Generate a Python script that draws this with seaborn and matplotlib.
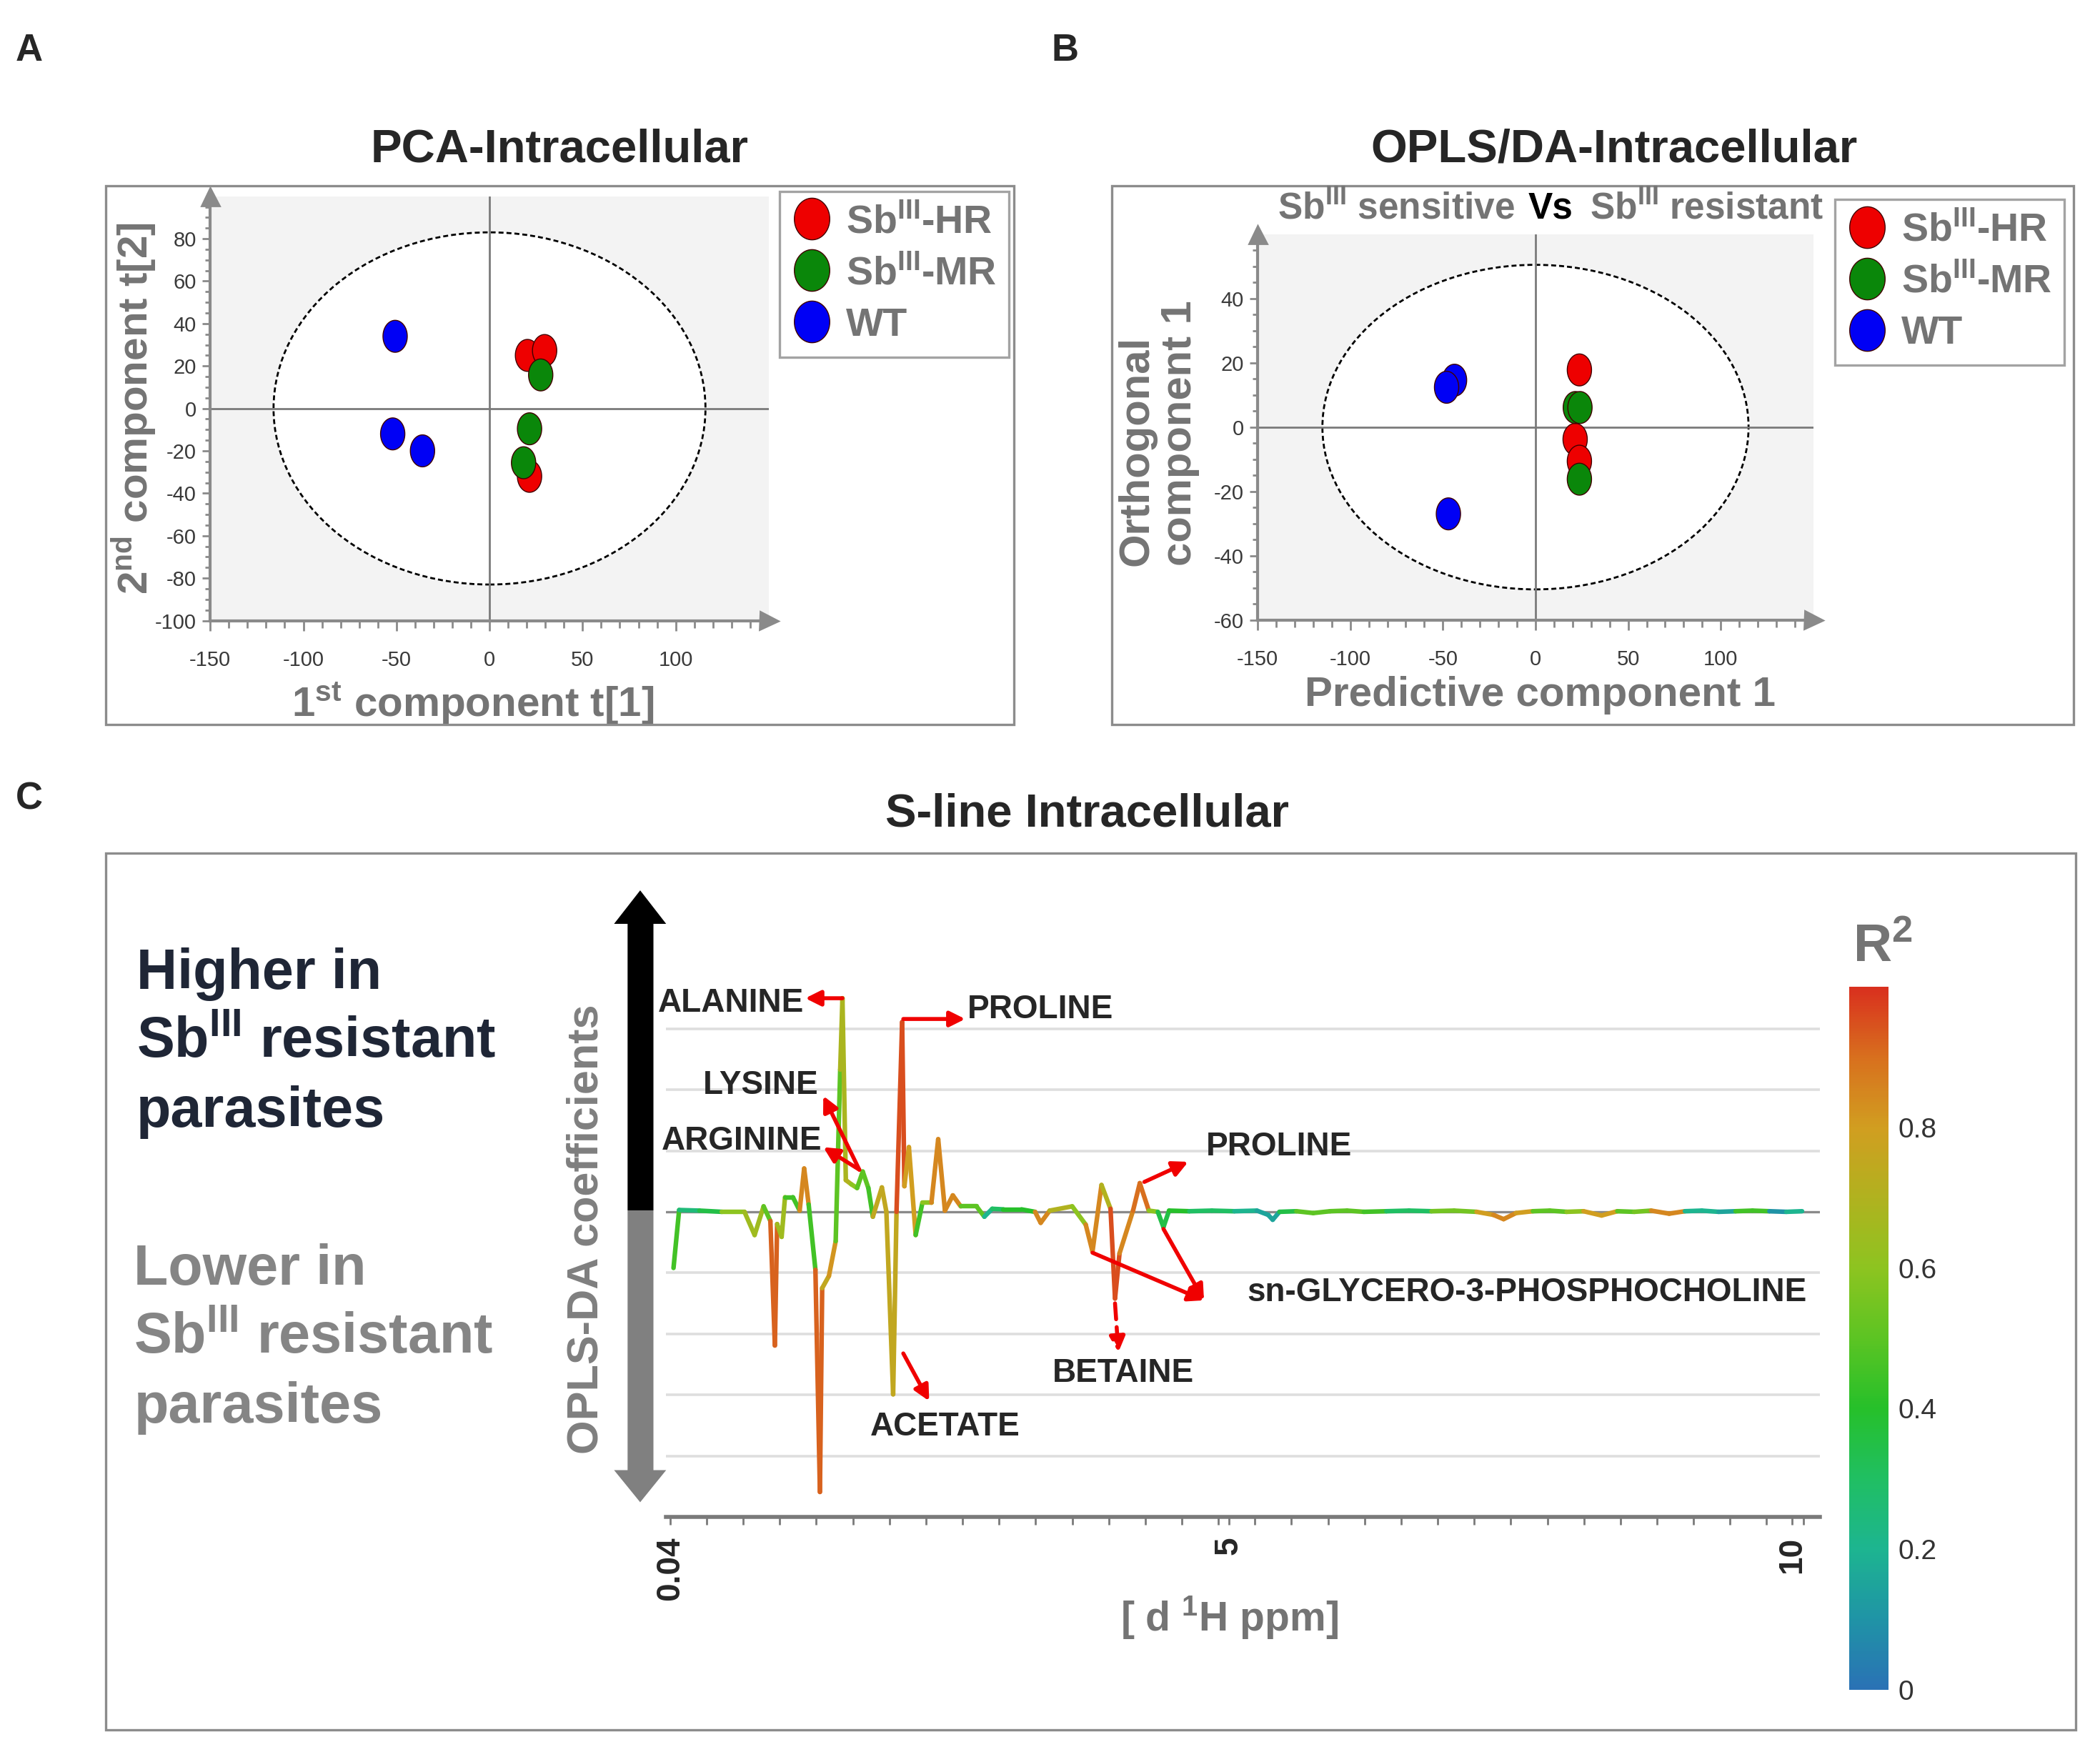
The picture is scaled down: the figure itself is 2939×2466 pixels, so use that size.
import numpy as np
import pandas as pd
import seaborn as sns
import matplotlib.pyplot as plt
from matplotlib.patches import Ellipse, Rectangle, Polygon
from matplotlib.lines import Line2D
from matplotlib.collections import LineCollection
from matplotlib.colors import LinearSegmentedColormap, Normalize
from matplotlib.cm import ScalarMappable

# -----------------------------
# Style
# -----------------------------
sns.set_style("white")
plt.rcParams["font.family"] = ["Liberation Sans", "DejaVu Sans"]
plt.rcParams["mathtext.fontset"] = "custom"
plt.rcParams["mathtext.rm"] = "Liberation Sans:bold"
plt.rcParams["mathtext.bf"] = "Liberation Sans:bold"
plt.rcParams["mathtext.it"] = "Liberation Sans:bold:italic"
plt.rcParams["mathtext.default"] = "rm"
plt.rcParams["axes.unicode_minus"] = False

GREY_TXT = "#747474"
FRAME = "#8c8c8c"

# -----------------------------
# Data: PCA scores (panel A)
# -----------------------------
group_labels = ["Sb$^{III}$-HR", "Sb$^{III}$-MR", "WT"]
group_colors = ["#ee0000", "#0a870a", "#0000f5"]

pca_group = ["WT", "WT", "WT",
             "Sb$^{III}$-HR", "Sb$^{III}$-HR", "Sb$^{III}$-HR",
             "Sb$^{III}$-MR", "Sb$^{III}$-MR", "Sb$^{III}$-MR"]
pca_t1 = [-50.7, -52.0, -36.0, 20.4, 29.6, 21.5, 27.5, 21.5, 18.3]
pca_t2 = [34.0, -12.0, -20.0, 25.0, 27.3, -32.0, 15.8, -9.6, -25.6]
pca_ellipse = (232, 166)   # Hotelling T2 ellipse width / height

# -----------------------------
# Data: OPLS-DA scores (panel B)
# -----------------------------
opls_group = ["WT", "WT", "WT",
              "Sb$^{III}$-HR", "Sb$^{III}$-HR", "Sb$^{III}$-HR",
              "Sb$^{III}$-MR", "Sb$^{III}$-MR", "Sb$^{III}$-MR"]
opls_pred = [-43.7, -48.0, -47.0, 23.7, 21.4, 23.7, 21.5, 24.0, 23.7]
opls_orth = [14.6, 12.4, -27.0, 17.8, -3.8, -10.6, 6.1, 6.1, -16.2]
opls_ellipse = (230, 101)

# -----------------------------
# Data: S-line (panel C)
# -----------------------------
sline_ppm = [0.07, 0.12, 0.30, 0.50, 0.70, 0.79, 0.87, 0.93, 0.97, 0.99,
             1.03, 1.06, 1.13, 1.19, 1.23, 1.27, 1.33, 1.37, 1.39, 1.45,
             1.51, 1.55, 1.57, 1.60, 1.65, 1.70, 1.75, 1.80, 1.84, 1.92,
             1.96, 2.02, 2.05, 2.10, 2.12, 2.16, 2.22, 2.28, 2.36, 2.42,
             2.48, 2.55, 2.62, 2.76, 2.83, 2.90, 3.00, 3.16, 3.28, 3.33,
             3.41, 3.61, 3.73, 3.79, 3.87, 3.95, 3.99, 4.03, 4.15, 4.21,
             4.29, 4.37, 4.42, 4.47, 4.65, 4.85, 5.05, 5.25, 5.35, 5.39,
             5.45, 5.60, 5.75, 5.90, 6.05, 6.20, 6.40, 6.60, 6.80, 7.00,
             7.20, 7.35, 7.44, 7.55, 7.70, 7.85, 8.00, 8.15, 8.31, 8.45,
             8.60, 8.75, 8.91, 9.05, 9.20, 9.35, 9.50, 9.65, 9.80, 9.95,
             10.09]
sline_coef = [-0.92, 0.03, 0.02, 0.00, 0.00, -0.38, 0.09, -0.15, -2.19, -0.20,
              -0.41, 0.24, 0.24, 0.02, 0.71, 0.12, -0.95, -4.59, -1.25, -1.05,
              -0.48, 2.33, 3.50, 0.52, 0.45, 0.39, 0.66, 0.39, -0.08, 0.40,
              0.00, -2.99, 0.00, 3.11, 0.42, 1.06, -0.38, 0.15, 0.15, 1.19,
              0.02, 0.27, 0.09, 0.09, -0.08, 0.05, 0.04, 0.04, 0.00, -0.18,
              0.02, 0.09, -0.21, -0.65, 0.44, 0.05, -1.42, -0.68, 0.02, 0.47,
              0.02, 0.00, -0.25, 0.02, 0.01, 0.02, 0.01, 0.02, -0.05, -0.13,
              0.00, 0.01, -0.02, 0.01, 0.02, 0.00, 0.01, 0.02, 0.01, 0.02,
              0.00, -0.05, -0.12, -0.02, 0.01, 0.02, 0.00, 0.01, -0.06, 0.01,
              0.00, 0.02, -0.03, 0.01, 0.02, 0.00, 0.01, 0.02, 0.01, 0.00,
              0.01]
sline_r2 = [0.45, 0.25, 0.35, 0.55, 0.60, 0.65, 0.70, 0.50, 0.92, 0.20,
            0.65, 0.50, 0.45, 0.15, 0.85, 0.40, 0.45, 0.92, 0.75, 0.82,
            0.72, 0.50, 0.68, 0.70, 0.60, 0.45, 0.50, 0.45, 0.30, 0.75,
            0.50, 0.75, 0.85, 0.95, 0.85, 0.80, 0.45, 0.40, 0.60, 0.85,
            0.20, 0.85, 0.60, 0.50, 0.20, 0.30, 0.60, 0.40, 0.50, 0.85,
            0.50, 0.70, 0.60, 0.85, 0.70, 0.30, 0.95, 0.85, 0.30, 0.90,
            0.60, 0.50, 0.35, 0.40, 0.55, 0.30, 0.60, 0.20, 0.15, 0.15,
            0.20, 0.35, 0.50, 0.30, 0.50, 0.20, 0.45, 0.30, 0.80, 0.55,
            0.30, 0.80, 0.85, 0.80, 0.30, 0.50, 0.20, 0.60, 0.80, 0.50,
            0.30, 0.55, 0.85, 0.40, 0.20, 0.50, 0.15, 0.45, 0.10, 0.30,
            0.20]

r2_ticks = [0, 0.2, 0.4, 0.6, 0.8]
ppm_ticks = [0.04, 5, 10]
ppm_tick_labels = ["0.04", "5", "10"]

# metabolite labels: name, text position, alignment, arrow tail, arrow head
metabolites = [
    ("ALANINE", (1.23, 3.42), "right", (1.57, 3.50), (1.24, 3.50)),
    ("PROLINE", (2.68, 3.31), "left", (2.11, 3.16), (2.66, 3.16)),
    ("LYSINE", (1.36, 2.07), "right", (1.72, 0.69), (1.40, 1.90)),
    ("ARGININE", (1.39, 1.16), "right", (1.72, 0.69), (1.40, 1.06)),
    ("PROLINE", (4.80, 1.06), "left", (4.25, 0.49), (4.64, 0.82)),
    ("ACETATE", (2.48, -3.52), "center", (2.11, -2.32), (2.34, -3.10)),
    ("BETAINE", (4.06, -2.65), "center", (3.99, -1.50), (4.02, -2.30)),
    ("sn-GLYCERO-3-PHOSPHOCHOLINE", (5.16, -1.32), "left", (3.79, -0.67), (4.78, -1.45)),
    ("", (0, 0), "left", (4.42, -0.28), (4.78, -1.45)),
]

# -----------------------------
# Figure
# -----------------------------
fig = plt.figure(figsize=(14.695, 12.33), dpi=200)


def fx(d):
    return d / 1568.0


def fy(d):
    return 1 - d / 1316.0


# oval marker shape (taller than wide)
t = np.linspace(0, 2 * np.pi, 61)
oval = np.column_stack([0.76 * np.cos(t), np.sin(t)])
oval_leg = np.column_stack([0.85 * np.cos(t), np.sin(t)])
palette = dict(zip(group_labels, group_colors))


def score_panel(ax, x, y, groups, ell, xlim, ylim, yticks):
    ax.set_facecolor("#f3f3f3")
    ax.add_patch(Ellipse((0, 0), ell[0], ell[1], facecolor="white",
                         edgecolor="black", linestyle=(0, (2.5, 1.5)), lw=1.0, zorder=1))
    ax.axhline(0, color="#7a7a7a", lw=1.0, zorder=2)
    ax.axvline(0, color="#7a7a7a", lw=1.0, zorder=2)
    df = pd.DataFrame({"x": x, "y": y, "group": groups})
    sns.scatterplot(data=df, x="x", y="y", hue="group", palette=palette,
                    hue_order=group_labels, marker=oval, s=260,
                    edgecolor="#400000", linewidth=0.5, legend=False, ax=ax, zorder=3)
    ax.set_xlim(*xlim)
    ax.set_ylim(*ylim)
    ax.set_xlabel("")
    ax.set_ylabel("")
    ax.set_xticks([-150, -100, -50, 0, 50, 100])
    ax.set_xticks(np.arange(-150, 150, 10), minor=True)
    ax.set_yticks(yticks)
    ax.set_yticks(np.arange(ylim[0], ylim[1], 5), minor=True)
    for s in ["top", "right"]:
        ax.spines[s].set_visible(False)
    for s in ["left", "bottom"]:
        ax.spines[s].set_color("#8a8a8a")
        ax.spines[s].set_linewidth(1.5)
    ax.tick_params(axis="both", which="both", direction="out", color="#8a8a8a",
                   labelsize=10.5, labelcolor="#3a3a3a")
    ax.tick_params(axis="x", which="major", length=5, width=1, pad=10, bottom=True)
    ax.tick_params(axis="x", which="minor", length=3.5, width=1, bottom=True)
    ax.tick_params(axis="y", which="major", length=4, width=1, pad=3, left=True)
    ax.tick_params(axis="y", which="minor", length=2.5, width=1, left=True)
    ax.plot([0], [1], marker="^", ms=9, color="#8a8a8a", transform=ax.transAxes, clip_on=False)
    ax.plot([1], [0], marker=">", ms=9, color="#8a8a8a", transform=ax.transAxes, clip_on=False)


def add_legend(x0, y0):
    handles = [Line2D([], [], marker=oval_leg, linestyle="", markersize=21,
                      markerfacecolor=c, markeredgecolor="#400000", markeredgewidth=0.5)
               for c in group_colors]
    leg = fig.legend(handles, group_labels, loc="upper left", bbox_to_anchor=(x0, y0),
                     bbox_transform=fig.transFigure, frameon=True, fancybox=False,
                     edgecolor=FRAME, prop={"weight": "bold", "size": 20},
                     labelcolor=GREY_TXT, handlelength=1.0, handletextpad=0.35,
                     labelspacing=0.36, borderpad=0.32, borderaxespad=0)
    leg.get_frame().set_linewidth(1.2)


# panel frames
for (x0, y0, x1, y1) in [(79, 139, 757, 541), (830, 139, 1548, 541), (79, 637, 1550, 1292)]:
    fig.patches.append(Rectangle((fx(x0), fy(y1)), fx(x1) - fx(x0), fy(y0) - fy(y1),
                                 transform=fig.transFigure, fill=False,
                                 edgecolor=FRAME, lw=1.2))

# panel letters and titles
for lab, x, y in [("A", 22, 38), ("B", 795, 38), ("C", 22, 597)]:
    fig.text(fx(x), fy(y), lab, fontsize=19, fontweight="bold", ha="center", va="center")
fig.text(fx(418), fy(112), "PCA-Intracellular", fontsize=23.5, fontweight="bold",
         ha="center", va="center")
fig.text(fx(1205), fy(112), "OPLS/DA-Intracellular", fontsize=23.5, fontweight="bold",
         ha="center", va="center")
fig.text(fx(812), fy(608), "S-line Intracellular", fontsize=23.5, fontweight="bold",
         ha="center", va="center")

# -----------------------------
# Panel A
# -----------------------------
ax_a = fig.add_axes([fx(157), fy(463.5), fx(574) - fx(157), fy(146.6) - fy(463.5)])
score_panel(ax_a, pca_t1, pca_t2, pca_group, pca_ellipse, (-150, 150), (-100, 100),
            [-100, -80, -60, -40, -20, 0, 20, 40, 60, 80])
ax_a.set_xlabel("1$^{st}$ component t[1]", fontsize=21, fontweight="bold", color=GREY_TXT)
ax_a.xaxis.label.set_va("center")
ax_a.xaxis.set_label_coords(0.47, -0.195)
ax_a.set_ylabel("2$^{nd}$ component t[2]", fontsize=21, fontweight="bold", color=GREY_TXT)
ax_a.yaxis.label.set_va("center")
ax_a.yaxis.set_label_coords(-0.137, 0.5)
add_legend(fx(582), fy(143))

# -----------------------------
# Panel B
# -----------------------------
ax_b = fig.add_axes([fx(939), fy(463), fx(1354) - fx(939), fy(175) - fy(463)])
score_panel(ax_b, opls_pred, opls_orth, opls_group, opls_ellipse, (-150, 150), (-60, 60),
            [-60, -40, -20, 0, 20, 40])
ax_b.set_xlabel("Predictive component 1", fontsize=21, fontweight="bold", color=GREY_TXT)
ax_b.xaxis.label.set_va("center")
ax_b.xaxis.set_label_coords(0.508, -0.195)
ax_b.set_ylabel("Orthogonal\ncomponent 1", fontsize=21.5, fontweight="bold",
                color=GREY_TXT, linespacing=1.12, multialignment="left")
ax_b.yaxis.label.set_va("center")
ax_b.yaxis.set_label_coords(-0.178, 0.485)
add_legend(fx(1370), fy(149))

fig.text(fx(1131), fy(156), "Sb$^{III}$ sensitive", fontsize=18.5, color=GREY_TXT,
         fontweight="bold", ha="right", va="center")
fig.text(fx(1158), fy(156), "Vs", fontsize=18.5, color="black",
         fontweight="bold", ha="center", va="center")
fig.text(fx(1187), fy(156), "Sb$^{III}$ resistant", fontsize=18.5, color=GREY_TXT,
         fontweight="bold", ha="left", va="center")

# -----------------------------
# Panel C
# -----------------------------
r2_cmap = LinearSegmentedColormap.from_list("r2", [
    (0.0, "#2a72b5"), (0.1, "#1f94a6"), (0.2, "#1db590"), (0.3, "#20bf62"),
    (0.4, "#26c02a"), (0.5, "#5cc423"), (0.6, "#8dc420"), (0.7, "#b0b21f"),
    (0.8, "#d19e20"), (0.9, "#d8701e"), (1.0, "#d9301e")])
r2_norm = Normalize(0, 1)

ax_c = fig.add_axes([fx(497), fy(1133), fx(1359) - fx(497), fy(741) - fy(1133)])
ax_c.set_xlim(0, 10.25)
ax_c.set_ylim(-5, 3.6)
for g in [-4, -3, -2, -1, 1, 2, 3]:
    ax_c.axhline(g, color="#dedede", lw=1.3, zorder=0)
ax_c.axhline(0, color="#8a8a8a", lw=1.2, zorder=1)

# each segment takes the R2 of its end that lies farther from zero
coef_arr = np.array(sline_coef)
r2_arr = np.array(sline_r2)
pts = np.column_stack([sline_ppm, sline_coef])
segs = np.stack([pts[:-1], pts[1:]], axis=1)
seg_r2 = np.where(np.abs(coef_arr[1:]) >= np.abs(coef_arr[:-1]), r2_arr[1:], r2_arr[:-1])
lc = LineCollection(segs, cmap=r2_cmap, norm=r2_norm, linewidths=2.3,
                    capstyle="round", joinstyle="round", zorder=3)
lc.set_array(seg_r2)
ax_c.add_collection(lc)

for s in ["top", "right", "left"]:
    ax_c.spines[s].set_visible(False)
ax_c.spines["bottom"].set_color("#7a7a7a")
ax_c.spines["bottom"].set_linewidth(2)
ax_c.set_yticks([])
ax_c.set_xticks(ppm_ticks)
ax_c.set_xticklabels(ppm_tick_labels, rotation=90, fontsize=16.5, fontweight="bold")
ax_c.set_xticks(np.linspace(0.04, 10.1, 32), minor=True)
ax_c.tick_params(axis="x", which="both", direction="out", length=4, width=1,
                 color="#7a7a7a", bottom=True, pad=6)
ax_c.set_xlabel("[ d $^{1}$H ppm]", fontsize=20.5, fontweight="bold", color=GREY_TXT)
ax_c.xaxis.label.set_va("center")
ax_c.xaxis.set_label_coords(0.488, -0.191)

for name, tpos, ha, tail, head in metabolites:
    if name:
        ax_c.text(tpos[0], tpos[1], name, fontsize=16.5, fontweight="bold",
                  ha=ha, va="center", zorder=5)
    ls = (0, (4, 2)) if name == "BETAINE" else "-"
    ax_c.annotate("", xy=head, xytext=tail,
                  arrowprops=dict(arrowstyle="-|>", color="#f00000", lw=2.0,
                                  mutation_scale=16, shrinkA=0, shrinkB=0,
                                  linestyle=ls), zorder=4)

# colour bar
cax = fig.add_axes([fx(1381), fy(1262), fx(1410) - fx(1381), fy(737) - fy(1262)])
cb = fig.colorbar(ScalarMappable(norm=r2_norm, cmap=r2_cmap), cax=cax, ticks=r2_ticks)
cb.outline.set_visible(False)
cb.ax.set_yticklabels(["0", "0.2", "0.4", "0.6", "0.8"])
cb.ax.tick_params(length=0, labelsize=14, labelcolor="#333333", pad=5)
fig.text(fx(1406), fy(708), "R$^2$", fontsize=27, fontweight="bold", color=GREY_TXT,
         ha="center", va="center")

# left side double arrow and texts
fig.patches.append(Polygon(
    [(fx(468.6), fy(904)), (fx(468.6), fy(690)), (fx(458.5), fy(690)), (fx(478), fy(665)),
     (fx(497.4), fy(690)), (fx(487.9), fy(690)), (fx(487.9), fy(904))],
    closed=True, transform=fig.transFigure, facecolor="black", edgecolor="none"))
fig.patches.append(Polygon(
    [(fx(468.6), fy(904)), (fx(468.6), fy(1098)), (fx(458.5), fy(1098)), (fx(478), fy(1122)),
     (fx(497.4), fy(1098)), (fx(487.9), fy(1098)), (fx(487.9), fy(904))],
    closed=True, transform=fig.transFigure, facecolor="#808080", edgecolor="none"))
fig.text(fx(438), fy(918), "OPLS-DA coefficients", fontsize=22, fontweight="bold",
         color="#7f7f7f", rotation=90, ha="center", va="center")

fig.text(fx(102), fy(779), "Higher in\nSb$^{III}$ resistant\nparasites", fontsize=28.5,
         fontweight="bold", color="#1f2636", ha="left", va="center", linespacing=1.37)
fig.text(fx(100), fy(1000), "Lower in\nSb$^{III}$ resistant\nparasites", fontsize=28.5,
         fontweight="bold", color="#858585", ha="left", va="center", linespacing=1.37)

fig.savefig("out.png", dpi=200)
plt.close(fig)
